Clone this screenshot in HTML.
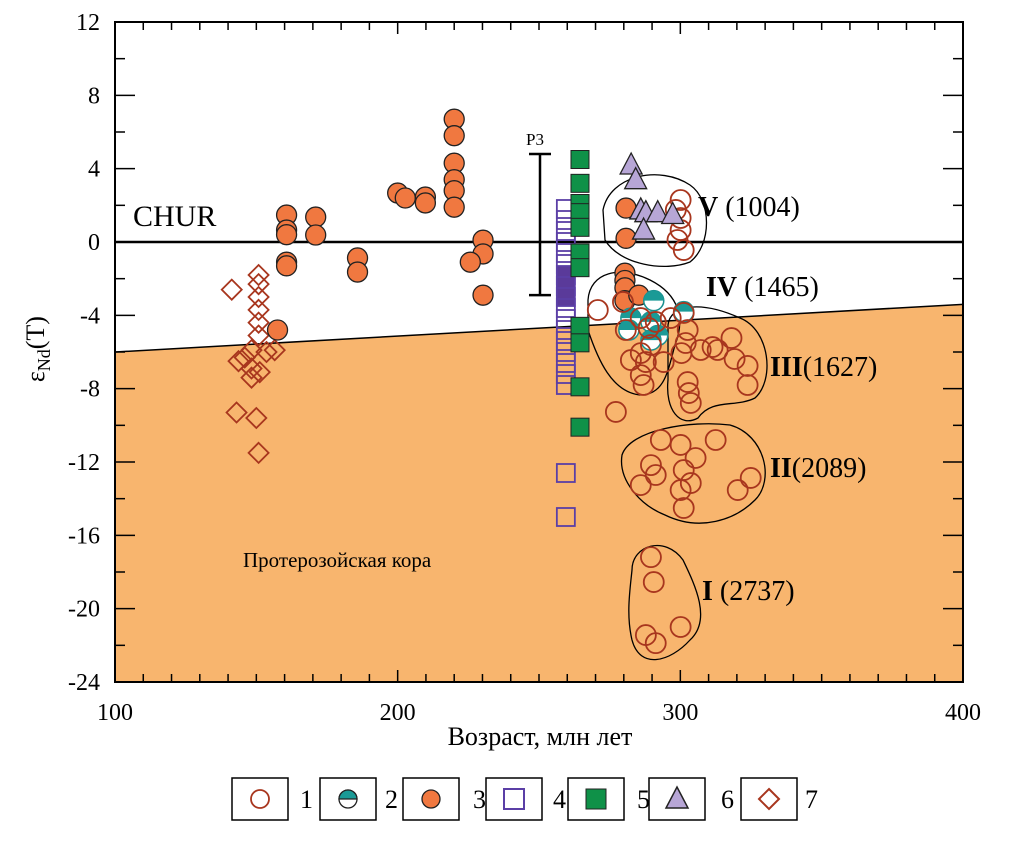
<!DOCTYPE html>
<html><head><meta charset="utf-8">
<style>
html,body{margin:0;padding:0;background:#fff;}
svg{display:block;font-family:"Liberation Serif",serif;}
</style></head>
<body>
<svg id="chart" width="1020" height="843" viewBox="0 0 1020 843" xmlns="http://www.w3.org/2000/svg">
<g id="bg"></g>
<g id="hulls"></g>
<g id="marks"></g>
<g id="axes"></g>
<g id="labels"></g>
<g id="legend"></g>
</svg>
<script>
// ---- data ----
const xTicks=[100,200,300,400];
const yTicks=[12,8,4,0,-4,-8,-12,-16,-20,-24];
const crustLine=[[100,-6],[400,-3.4]];
const openAge=[298.4,300.1,300.1,300.1,299,301.2,
 270.8,279.7,286,280.7,288.8,291.3,296.6,301.2,289.6,282.5,286,287.8,286,287,294.1,277.2,
 307.2,313.2,318.1,319.2,323.8,323.8,311.4,302.6,303,303.7,300.4,301.9,302.6,
 289.6,293.1,286,291.3,300.1,301.2,305.4,303.7,300.1,301.2,312.5,320.3,324.9,
 289.6,290.6,287.8,291.3,300.1];
const openEps=[1.75,2.29,1.31,0.65,0.11,-0.44,
 -3.71,-3.27,-4.15,-4.8,-4.69,-4.36,-4.15,-3.87,-5.62,-6.44,-6.06,-6.55,-7.26,-7.8,-6.55,-9.27,
 -5.89,-5.89,-5.24,-6.38,-6.76,-7.8,-5.73,-7.64,-8.24,-8.78,-6.06,-5.51,-4.8,
 -12.17,-10.8,-13.26,-12.71,-11.07,-12.44,-11.78,-13.15,-13.53,-14.51,-10.8,-13.53,-12.87,
 -17.19,-18.55,-21.44,-21.88,-21];
const halfAge=[290.6,301.2,282.5,289.6,281.8,292,289.6];
const halfEps=[-3.2,-3.8,-4.15,-4.36,-4.8,-5.1,-5.35];
const filledAge=[160.7,160.7,160.7,160.7,160.7,171,171,185.8,185.8,200,202.7,209.8,209.8,
 220,220,220,220,220,220,230.2,230.2,225.7,230.2,157.5,
 280.8,280.8,280.4,280.4,280.4,280.4,285.3];
const filledEps=[1.47,0.65,0.4,-1.1,-1.3,1.36,0.38,-0.87,-1.64,2.67,2.4,2.45,2.13,
 6.7,5.8,4.3,3.4,2.8,1.9,0.1,-0.65,-1.1,-2.9,-4.8,
 1.85,0.2,-1.7,-2.1,-2.5,-3.2,-2.9];
const sqOpenEps=[1.8,1.2,0.6,0,-0.6,-1.2,-1.8,-2.4,-3,-3.6,-4.2,-4.8,-5.4,-6,-6.6,-7.2,-7.8,-12.6,-15];
const sqOpenAge=[259.5,259.5,259.5,259.5,259.5,259.5,259.5,259.5,259.5,259.5,259.5,259.5,259.5,259.5,259.5,259.5,259.5,259.5,259.5];
const sqFillAge=[264.5,264.5,264.5,264.5,264.5,264.5,264.5,264.5,264.5,264.5,264.5];
const sqFillEps=[4.5,3.2,2.1,1.6,0.8,-0.6,-1.4,-4.6,-5.5,-7.9,-10.1];
const triAge=[282.6,284.2,286,287.8,292,297.3,287];
const triEps=[4.2,3.4,1.75,1.6,1.6,1.5,0.65];
const diaAge=[141.3,150.8,150.8,150.8,150.8,150.8,150.8,148.3,145.9,143.7,153.6,148.3,151.2,148.3,156.5,143,150,150.8];
const diaEps=[-2.6,-1.8,-2.3,-3,-3.7,-4.4,-5.1,-5.9,-6.3,-6.5,-6,-6.9,-7.1,-7.4,-5.9,-9.3,-9.6,-11.5];
const p3Range=[4.8,-2.9];

// ---- scales ----
const X0=115,X1=963,Y0=22,Y1=682;
const xs=v=>X0+(v-100)/300*(X1-X0);
const ys=v=>Y0+(12-v)/36*(Y1-Y0);
const NS='http://www.w3.org/2000/svg';
function mk(tag,attrs,parent){const e=document.createElementNS(NS,tag);for(const k in attrs)e.setAttribute(k,attrs[k]);parent.appendChild(e);return e;}
const bg=document.getElementById('bg'),marks=document.getElementById('marks'),axes=document.getElementById('axes'),labels=document.getElementById('labels'),hulls=document.getElementById('hulls'),legend=document.getElementById('legend');
const R=10;

let cf=mk('polygon',{points:`${xs(crustLine[0][0])},${ys(crustLine[0][1])} ${xs(crustLine[1][0])},${ys(crustLine[1][1])} ${X1},${Y1} ${X0},${Y1}`,fill:'#f8b56e'},bg);


let cl=mk('line',{x1:xs(crustLine[0][0]),y1:ys(crustLine[0][1]),x2:xs(crustLine[1][0]),y2:ys(crustLine[1][1]),stroke:'#000','stroke-width':1.5},bg);


let chur=mk('line',{x1:X0,y1:ys(0),x2:X1,y2:ys(0),stroke:'#000','stroke-width':2.5},bg);



const hullPaths=[
 'M603,210 C610,175 660,165 690,185 C712,200 712,245 690,262 C665,272 620,265 605,240 Z',
 'M588,300 C590,272 620,265 650,280 C680,295 685,320 675,345 C668,370 665,395 640,395 C612,392 598,360 588,330 Z',
 'M668,325 C670,305 700,300 740,318 C770,330 775,380 755,398 C735,408 712,398 698,418 C680,428 665,410 668,380 Z',
 'M622,455 C630,430 690,420 730,425 C765,435 775,480 755,500 C735,520 700,532 665,515 C640,505 618,480 622,455 Z',
 'M632,570 C632,545 665,535 683,560 C695,585 712,620 690,640 C670,662 640,670 632,640 C626,615 630,590 632,570 Z'];
hullPaths.forEach((d,i)=>{const p=mk('path',{d:d,fill:'none',stroke:'#000','stroke-width':1.3},hulls);

});

let p3=mk('g',{},labels);


mk('line',{x1:540,x2:540,y1:ys(p3Range[0]),y2:ys(p3Range[1]),stroke:'#000','stroke-width':2.5},p3);
mk('line',{x1:529,x2:551,y1:ys(p3Range[0]),y2:ys(p3Range[0]),stroke:'#000','stroke-width':2.5},p3);
mk('line',{x1:529,x2:551,y1:ys(p3Range[1]),y2:ys(p3Range[1]),stroke:'#000','stroke-width':2.5},p3);

sqOpenAge.forEach((a,i)=>{const dark=sqOpenEps[i]<=-1.8&&sqOpenEps[i]>=-3;const r=mk('rect',{x:xs(a)-9,y:ys(sqOpenEps[i])-9,width:18,height:18,fill:dark?'#5a3a9a':'none',stroke:'#5b3fa6','stroke-width':1.8},marks);

});
sqFillAge.forEach((a,i)=>{const r=mk('rect',{x:xs(a)-9,y:ys(sqFillEps[i])-9,width:18,height:18,fill:'#0f9148',stroke:'#222','stroke-width':1},marks);

});
diaAge.forEach((a,i)=>{const x=xs(a),y=ys(diaEps[i]);const r=mk('polygon',{points:`${x},${y-10} ${x+10},${y} ${x},${y+10} ${x-10},${y}`,fill:'none',stroke:'#a8361e','stroke-width':1.8},marks);

});
filledAge.forEach((a,i)=>{const c=mk('circle',{cx:xs(a),cy:ys(filledEps[i]),r:R,fill:'#f07840',stroke:'#222','stroke-width':1.3},marks);

});
halfAge.forEach((a,i)=>{const x=xs(a),y=ys(halfEps[i]);const g=mk('g',{},marks);


mk('circle',{cx:x,cy:y,r:R,fill:'#fff',stroke:'#1a8f8f','stroke-width':1.5},g);
mk('path',{d:`M${x-R},${y} A${R},${R} 0 0 1 ${x+R},${y} Z`,fill:'#1a9a96'},g);});
openAge.forEach((a,i)=>{const c=mk('circle',{cx:xs(a),cy:ys(openEps[i]),r:R,fill:'none',stroke:'#a8361e','stroke-width':1.8},marks);

});
triAge.forEach((a,i)=>{const x=xs(a),y=ys(triEps[i]);const t=mk('polygon',{points:`${x},${y-12} ${x+11},${y+9} ${x-11},${y+9}`,fill:'#b7a6d6',stroke:'#222','stroke-width':1.3},marks);

});

let frame=mk('rect',{x:X0,y:Y0,width:X1-X0,height:Y1-Y0,fill:'none',stroke:'#000','stroke-width':2},axes);


for(let v=100;v<=400;v+=10){const x=xs(v);const L=(v%100===0)?12:8;
mk('line',{x1:x,x2:x,y1:Y1,y2:Y1-L,stroke:'#000','stroke-width':1.5},axes);
mk('line',{x1:x,x2:x,y1:Y0,y2:Y0+L,stroke:'#000','stroke-width':1.5},axes);}
for(let v=-24;v<=12;v+=2){const y=ys(v);const L=(v%4===0)?20:10;
mk('line',{x1:X0,x2:X0+L,y1:y,y2:y,stroke:'#000','stroke-width':1.5},axes);
mk('line',{x1:X1,x2:X1-L,y1:y,y2:y,stroke:'#000','stroke-width':1.5},axes);}
xTicks.forEach(v=>{const t=mk('text',{x:xs(v),y:720,'text-anchor':'middle','font-size':24},axes);t.textContent=v;

});
yTicks.forEach(v=>{const t=mk('text',{x:100,y:ys(v)+8,'text-anchor':'end','font-size':24},axes);t.textContent=v;

});

const legX=[232,320,403,486,568,649,741],legTxt=['1','2','3','4','5','6','7'],legTX=[300,385,473,553,637,721,805];
legX.forEach((x,i)=>{const g=mk('g',{},legend);


mk('rect',{x:x,y:778,width:56,height:42,fill:'#fff',stroke:'#000','stroke-width':1.5},g);
const cx=x+28,cy=799;
if(i===0)mk('circle',{cx,cy,r:9,fill:'none',stroke:'#a8361e','stroke-width':1.8},g);
if(i===1){mk('circle',{cx,cy,r:9,fill:'#fff',stroke:'#222','stroke-width':1.3},g);mk('path',{d:`M${cx-9},${cy} A9,9 0 0 1 ${cx+9},${cy} Z`,fill:'#1a9a96',stroke:'#222','stroke-width':1.3},g);}
if(i===2)mk('circle',{cx,cy,r:9,fill:'#f07840',stroke:'#222','stroke-width':1.3},g);
if(i===3)mk('rect',{x:cx-10,y:cy-10,width:20,height:20,fill:'none',stroke:'#5b3fa6','stroke-width':2},g);
if(i===4)mk('rect',{x:cx-10,y:cy-10,width:20,height:20,fill:'#0f9148',stroke:'#222','stroke-width':1},g);
if(i===5)mk('polygon',{points:`${cx},${cy-12} ${cx+11},${cy+9} ${cx-11},${cy+9}`,fill:'#b7a6d6',stroke:'#222','stroke-width':1.5},g);
if(i===6)mk('polygon',{points:`${cx},${cy-10} ${cx+10},${cy} ${cx},${cy+10} ${cx-10},${cy}`,fill:'none',stroke:'#a8361e','stroke-width':2},g);
const t=mk('text',{x:legTX[i],y:808,'font-size':26},g);t.textContent=legTxt[i];});
</script>
<div style="position:absolute;left:0;top:0;width:1020px;height:843px;pointer-events:none;font-family:'Liberation Serif',serif;">
<div style="position:absolute;left:133px;top:200px;font-size:30px;">CHUR</div>
<div style="position:absolute;left:526px;top:130px;font-size:17px;">P3</div>
<div style="position:absolute;left:698px;top:192px;font-size:28px;"><b>V</b> (1004)</div>
<div style="position:absolute;left:706px;top:272px;font-size:28px;"><b>IV</b> (1465)</div>
<div style="position:absolute;left:770px;top:352px;font-size:28px;"><b>III</b>(1627)</div>
<div style="position:absolute;left:770px;top:453px;font-size:28px;"><b>II</b>(2089)</div>
<div style="position:absolute;left:702px;top:576px;font-size:28px;"><b>I</b> (2737)</div>
<div style="position:absolute;left:243px;top:548px;font-size:21px;">Протерозойская кора</div>
<div style="position:absolute;left:340px;top:722px;width:400px;text-align:center;font-size:26px;">Возраст, млн лет</div>
<div style="position:absolute;left:-22px;top:332px;width:120px;text-align:center;font-size:26px;transform:rotate(-90deg);">ε<sub style="font-size:18px;">Nd</sub>(T)</div>
</div>
</body></html>
